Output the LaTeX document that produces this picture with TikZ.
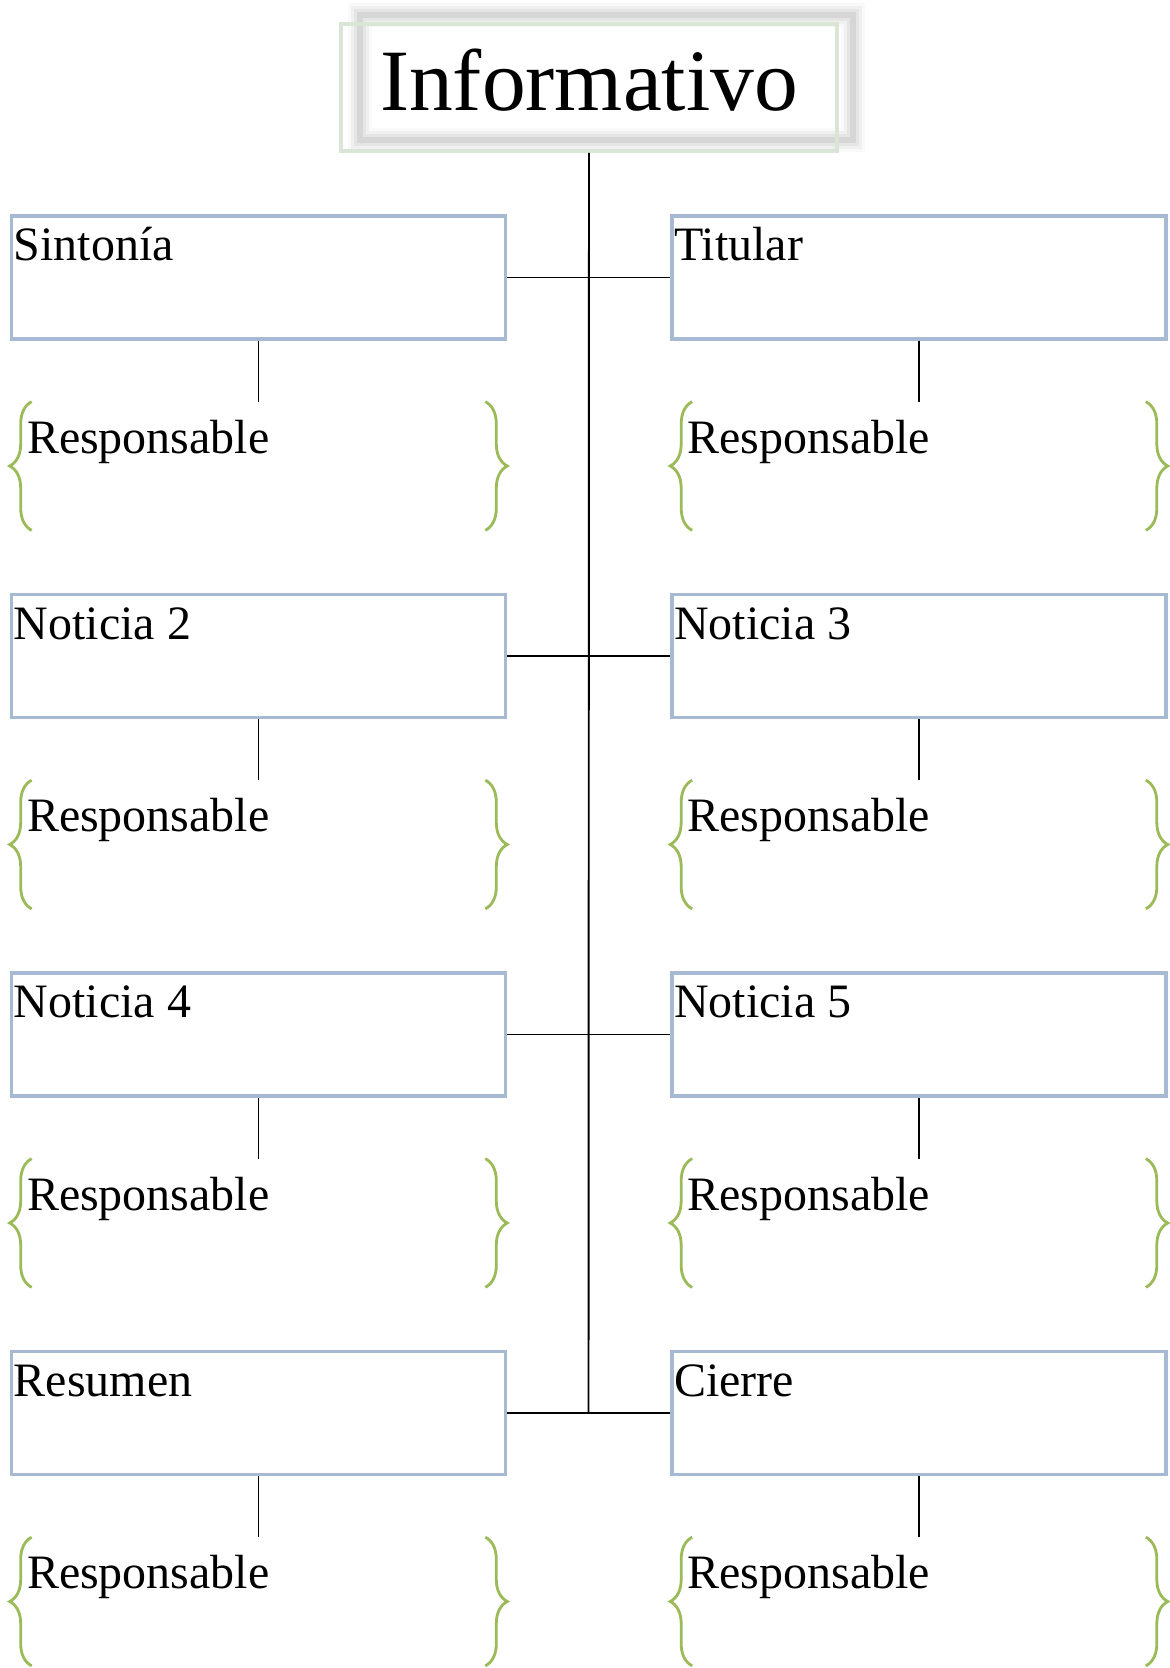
\documentclass[tikz,border=0pt]{standalone}
\usepackage{fontspec}
\setmainfont{Liberation Serif}
\usetikzlibrary{decorations.pathreplacing}
\definecolor{cajaazul}{RGB}{167,186,212}
\definecolor{llaveverde}{RGB}{155,187,89}
\definecolor{titverde}{RGB}{218,230,213}

\begin{document}
\begin{tikzpicture}[x=0.02cm,y=-0.02cm,
    caja/.style={draw=cajaazul,line width=1.8pt,minimum width=9.88cm,minimum height=2.46cm,inner sep=0pt},
    zona/.style={minimum width=9.06cm,minimum height=2.56cm,inner sep=0pt},
    llave/.style={draw=llaveverde,line width=1.6pt,decorate,decoration={brace,amplitude=0.44cm}},
    texto/.style={anchor=base west,inner sep=0pt,font=\fontsize{27.3pt}{32pt}\selectfont},
    linea/.style={line width=1.1pt}]
  % Marco
  \useasboundingbox (0,0) rectangle (1170,1668);

  % Titulo con sombra difusa
  \foreach \w/\o in {24/0.05,18/0.07,12/0.1,6/0.14}
    \draw[gray,line width=\w*0.57pt,opacity=\o] (360,15) rectangle (853,140);
  \node[draw=titverde,line width=2pt,minimum width=9.92cm,minimum height=2.54cm,inner sep=0pt] (titulo) at (589,87.5) {};
  \node[anchor=base,inner sep=0pt,font=\fontsize{49.8pt}{56pt}\selectfont] (titulotxt) at (589,110) {Informativo};

  % Columnas
  \foreach \i/\y/\izq/\der in {1/277.5/Sintonía/Titular,2/656/Noticia 2/Noticia 3,3/1034.5/Noticia 4/Noticia 5,4/1413/Resumen/Cierre}{
    \node[caja] (L\i) at (258.5,\y) {};
    \node[caja] (R\i) at (919,\y) {};
    \node[texto] (Lt\i) at ([xshift=0.07cm,yshift=-0.93cm]L\i.north west) {\izq};
    \node[texto] (Rt\i) at ([xshift=0.07cm,yshift=-0.93cm]R\i.north west) {\der};
    \node[zona] (LZ\i) at (258.5,\y+188.5) {};
    \node[zona] (RZ\i) at (919,\y+188.5) {};
    \node[texto] (Lr\i) at ([xshift=-0.1cm,yshift=-1.03cm]LZ\i.north west) {Responsable};
    \node[texto] (Rr\i) at ([xshift=-0.1cm,yshift=-1.03cm]RZ\i.north west) {Responsable};
    % conectores
    \draw[linea] (L\i.south) -- (LZ\i.north);
    \draw[linea] (R\i.south) -- (RZ\i.north);
    \draw[linea] (L\i.east) -- (R\i.west);
    % llaves
    \draw[llave] (LZ\i.south west) -- (LZ\i.north west);
    \draw[llave] (LZ\i.north east) -- (LZ\i.south east);
    \draw[llave] (RZ\i.south west) -- (RZ\i.north west);
    \draw[llave] (RZ\i.north east) -- (RZ\i.south east);
  }

  % Eje central
  \coordinate (fin) at (588.5,1413);
  \draw[linea] (titulo.south) -- (fin);
\end{tikzpicture}
\end{document}
